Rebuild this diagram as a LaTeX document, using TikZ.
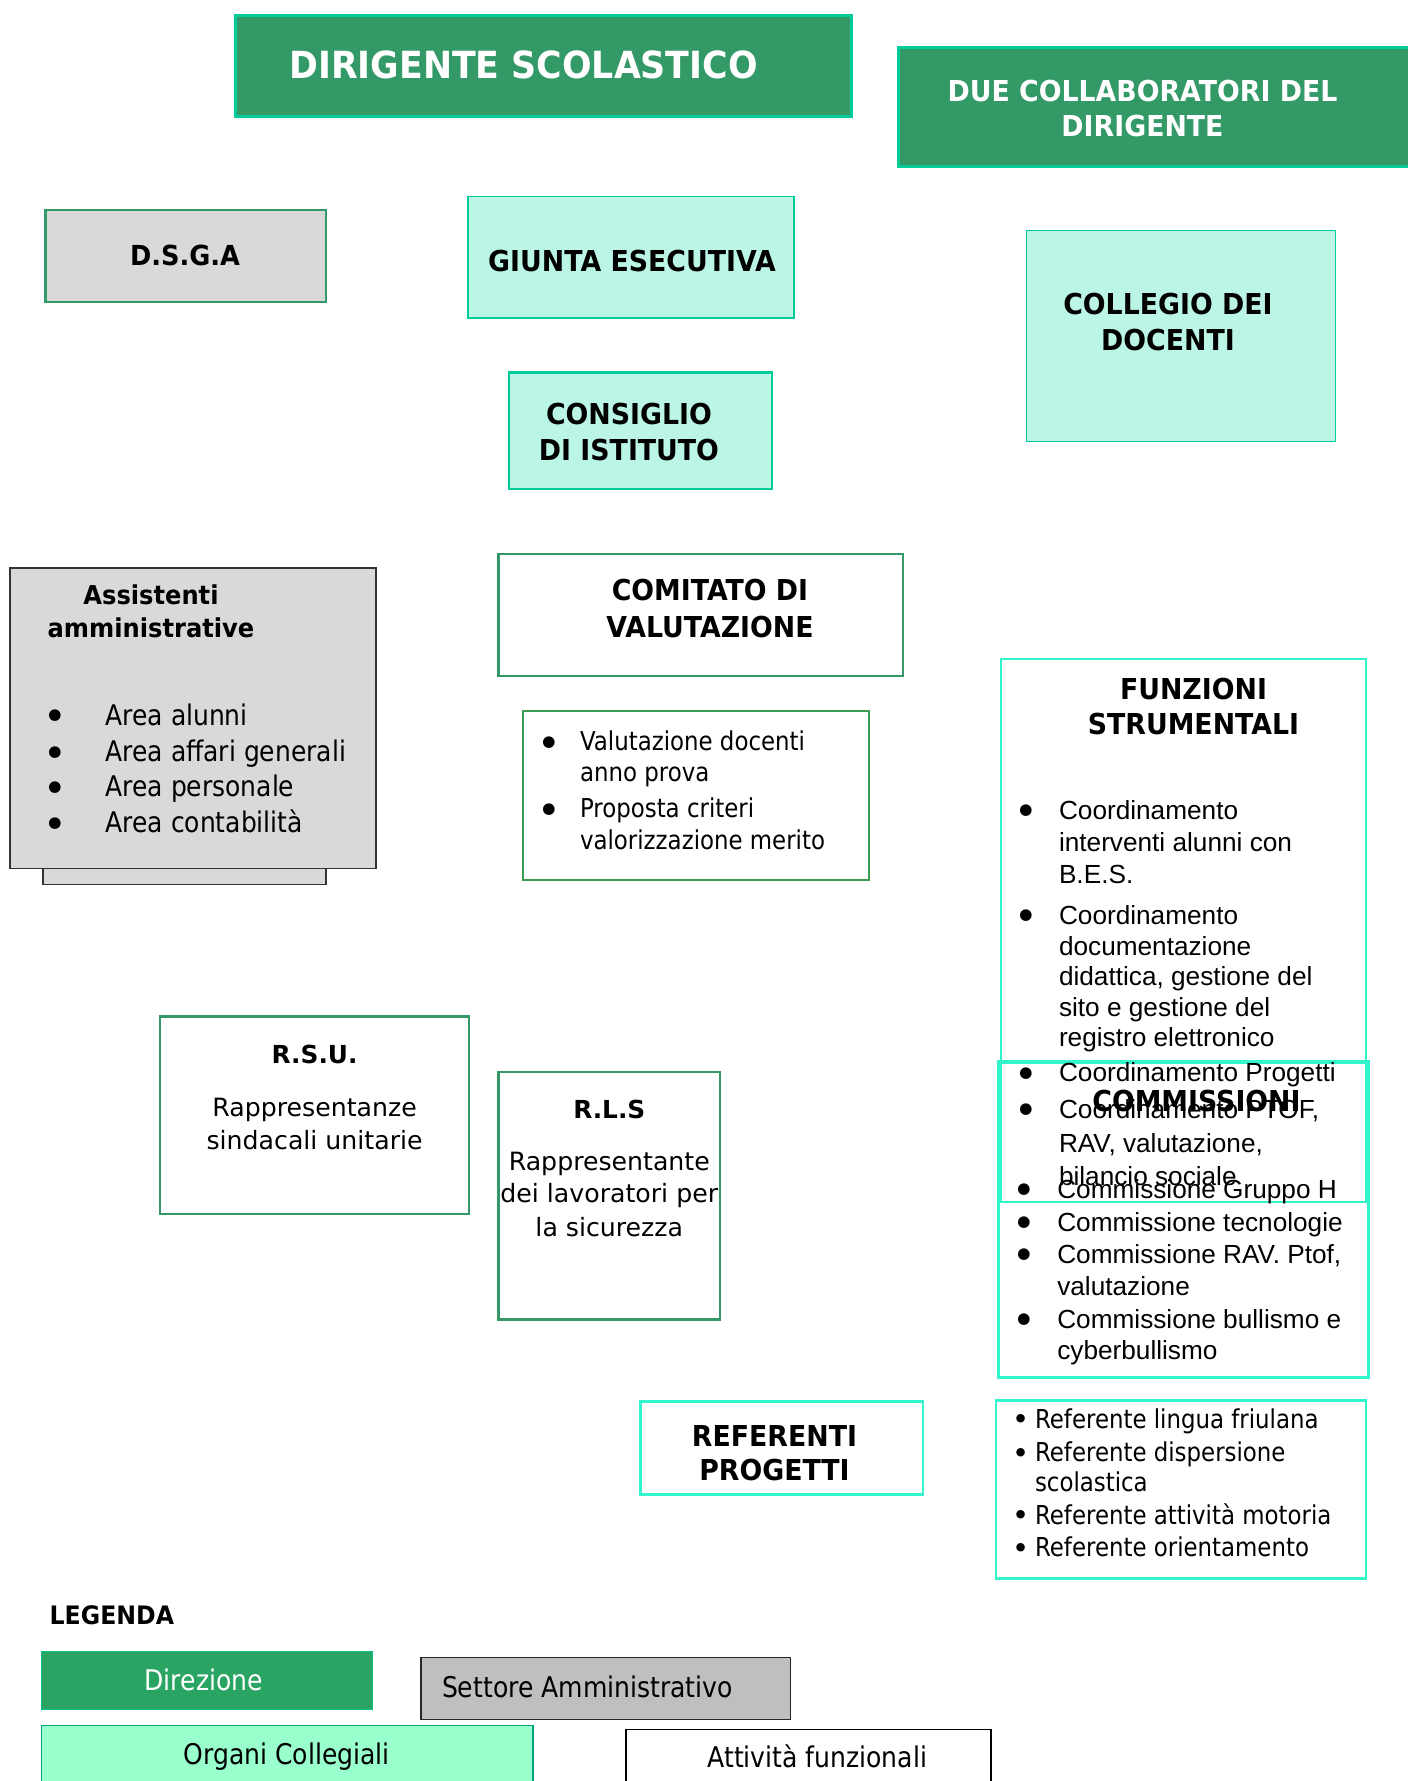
\documentclass[tikz,border=0pt]{standalone}
\usepackage{fontspec}
\setmainfont{DejaVu Sans}
\newfontfamily\arialf{Liberation Sans}
\newfontfamily\tahR{DejaVu Sans}[FakeStretch=0.88]
\newfontfamily\tahB{DejaVu Sans}[FakeStretch=0.93]
\usetikzlibrary{fit}
\definecolor{dgreen}{HTML}{339966}
\definecolor{bgreen}{HTML}{00CC99}
\definecolor{mint}{HTML}{BBF5E6}
\definecolor{aqua}{HTML}{33F5CC}
\definecolor{lgrey}{HTML}{D9D9D9}
\definecolor{mgrey}{HTML}{BFBFBF}
\definecolor{legdir}{HTML}{2AA462}
\definecolor{legorg}{HTML}{99FFCC}
\definecolor{vgreen}{HTML}{3C9A50}
\tikzset{
  rbox/.style={rectangle, inner sep=0pt, outer sep=0pt},
  dirbox/.style={rbox, fill=dgreen, draw=bgreen, line width=1.5pt},
  orgbox/.style={rbox, fill=mint, draw=bgreen, line width=0.8pt},
  grnbox/.style={rbox, draw=dgreen, line width=1.3pt},
  aquabox/.style={rbox, draw=aqua, line width=1.4pt},
  txt/.style={inner sep=0pt, outer sep=0pt, anchor=base},
  ltxt/.style={inner sep=0pt, outer sep=0pt, anchor=base west},
  bul/.style={inner sep=0pt, outer sep=0pt, anchor=center},
  fDir/.style={font={\tahB\bfseries\fontsize{18.7pt}{22pt}\selectfont}},
  fTit/.style={font={\tahB\bfseries\fontsize{14.4pt}{17pt}\selectfont}},
  fSub/.style={font={\tahB\bfseries\fontsize{13pt}{16pt}\selectfont}},
  fVB/.style={font={\bfseries\fontsize{12.4pt}{15pt}\selectfont}},
  fV/.style={font={\fontsize{12.6pt}{15pt}\selectfont}},
  fA/.style={font={\arialf\fontsize{13.1pt}{15pt}\selectfont}},
  fT/.style={font={\tahR\fontsize{13pt}{15pt}\selectfont}},
  fTA/.style={font={\tahR\fontsize{14.2pt}{17pt}\selectfont}},
  fL/.style={font={\tahR\fontsize{14.25pt}{17pt}\selectfont}},
  fBul/.style={font={\fontsize{20pt}{20pt}\selectfont}},
  fBulS/.style={font={\fontsize{14.5pt}{15pt}\selectfont}},
}
\begin{document}
\begin{tikzpicture}[x=0.5pt, y={(0pt,-0.5pt)}]
\path[use as bounding box, fill=white] (0,0) rectangle (1407,1781);

% ---------------- boxes
\node[dirbox, fit={(235,16) (851,117)}] (dir) {};
\node[dirbox, fit={(898,48) (1420,167)}] (due) {};
\node[rbox, fill=lgrey, draw=dgreen, line width=1.3pt, fit={(45.5,210) (326,302)}] (dsga) {};
\node[orgbox, fit={(468,196.5) (794,318)}] (giunta) {};
\node[orgbox, fit={(1026.5,230.5) (1335.5,441.5)}] (collegio) {};
\node[orgbox, line width=1.4pt, fit={(509,372.5) (772,489)}] (consiglio) {};
\node[rbox, fill=lgrey, draw=black!80, line width=0.7pt, fit={(43,868.7) (326,884.6)}] (assstrip) {};
\node[rbox, fill=lgrey, draw=black!80, line width=0.7pt, fit={(10,568) (376,868.7)}] (assist) {};
\node[grnbox, fit={(498.5,554) (903,676)}] (comitato) {};
\node[rbox, draw=vgreen, line width=1pt, fit={(522.5,711) (869,880)}] (valut) {};
\node[rbox, draw=aqua, line width=1pt, fit={(1000.5,658.5) (1366,1201.5)}] (funz) {};
\node[rbox, draw=aqua, line width=1.7pt, fit={(998.5,1062) (1368.5,1377.5)}] (comm) {};
\node[aquabox, fit={(640.5,1401.5) (923,1494.5)}] (referenti) {};
\node[aquabox, fit={(996,1400.5) (1366,1578.5)}] (reflist) {};
\node[grnbox, fit={(160,1016.5) (469,1214)}] (rsu) {};
\node[grnbox, fit={(498.5,1072) (720,1319.5)}] (rls) {};
% legend boxes
\node[rbox, fill=legdir, draw=bgreen!70!legdir, line width=0.5pt, fit={(41.5,1651) (372.5,1709)}] (ldir) {};
\node[rbox, fill=mgrey, draw=black!85, line width=0.8pt, fit={(421,1657.5) (790.5,1719.5)}] (lset) {};
\node[rbox, fill=legorg, draw=bgreen!80!black, line width=0.7pt, fit={(41.5,1725.5) (533,1800)}] (lorg) {};
\node[rbox, fill=white, draw=black, line width=0.8pt, fit={(625.7,1729.5) (991,1800)}] (latt) {};

% ---------------- titles
\node[txt, fDir, text=white] (dirT) at (523.5,79) {DIRIGENTE SCOLASTICO};
\node[txt, fTit, text=white] (dueT1) at (1142.5,101.7) {DUE COLLABORATORI DEL};
\node[txt, fTit, text=white] (dueT2) at (1142.5,136.7) {DIRIGENTE};
\node[txt, fTit, font={\tahB\bfseries\fontsize{13.8pt}{17pt}\selectfont}] (dsgaT) at (185,266) {D.S.G.A};
\node[txt, fTit] (giuntaT) at (632,271.7) {GIUNTA ESECUTIVA};
\node[txt, fTit] (collT1) at (1168,315) {COLLEGIO DEI};
\node[txt, fTit] (collT2) at (1168,350.7) {DOCENTI};
\node[txt, fTit] (consT1) at (629,424) {CONSIGLIO};
\node[txt, fTit] (consT2) at (629,460) {DI ISTITUTO};
\node[txt, fTit] (comT1) at (710,600) {COMITATO DI};
\node[txt, fTit] (comT2) at (710,637.3) {VALUTAZIONE};
\node[txt, fTit] (funzT1) at (1193.5,699) {FUNZIONI};
\node[txt, fTit] (funzT2) at (1193.5,734) {STRUMENTALI};
\node[txt, fTit] (commT) at (1196.5,1111.7) {COMMISSIONI};
\node[txt, fTit] (refT1) at (774.5,1446.7) {REFERENTI};
\node[txt, fTit] (refT2) at (774.5,1480.7) {PROGETTI};
\node[txt, fSub] (assT1) at (151,604) {Assistenti};
\node[txt, fSub] (assT2) at (151,637.3) {amministrative};

% ---------------- Assistenti items
\foreach \yy/\txt [count=\k] in {725/Area alunni, 761.7/Area affari generali, 796.7/Area personale, 832.7/Area contabilità}{
  \node[ltxt, fTA] (assI\k) at (105.6,\yy) {\txt};
  \node[bul, fBul] (assB\k) at (55.7,\yy-4.5) {•};
}

% ---------------- Valutazione items
\foreach \yy/\txt [count=\k] in {750/Valutazione docenti, 781.7/anno prova, 817.3/Proposta criteri, 849/valorizzazione merito}{
  \node[ltxt, fT] (valI\k) at (580,\yy) {\txt};
}
\foreach \yy [count=\k] in {750, 817.3}{
  \node[bul, fBul] (valB\k) at (549.3,\yy-3) {•};
}

% ---------------- Funzioni strumentali items
\foreach \yy/\txt [count=\k] in {819.3/Coordinamento, 851/interventi alunni con, 883.3/B.E.S., 924.3/Coordinamento, 955/documentazione, 985.7/{didattica, gestione del}, 1016/sito e gestione del, 1046.7/registro elettronico, 1081.7/Coordinamento Progetti, 1118.3/{Coordinamento PTOF,}, 1152.3/{RAV, valutazione,}, 1185/bilancio sociale}{
  \node[ltxt, fA] (funI\k) at (1059,\yy) {\txt};
}
\foreach \yy [count=\k] in {819.3, 924.3, 1081.7, 1118.3}{
  \node[bul, fBul] (funB\k) at (1026.4,\yy-4) {•};
}

% ---------------- Commissioni items
\foreach \yy/\txt [count=\k] in {1198.6/Commissione Gruppo H, 1231.5/Commissione tecnologie, 1263.3/{Commissione RAV. Ptof,}, 1295.1/valutazione, 1328/Commissione bullismo e, 1359.8/cyberbullismo}{
  \node[ltxt, fA] (comI\k) at (1057.3,\yy) {\txt};
}
\foreach \yy [count=\k] in {1198.6, 1231.5, 1263.3, 1328}{
  \node[bul, fBul] (comB\k) at (1024.7,\yy-4) {•};
}

% ---------------- Referenti list
\foreach \yy/\txt [count=\k] in {1428.3/Referente lingua friulana, 1461.7/Referente dispersione, 1491.7/scolastica, 1524/Referente attività motoria, 1556.7/Referente orientamento}{
  \node[ltxt, fT] (rfI\k) at (1035,\yy) {\txt};
}
\foreach \yy [count=\k] in {1428.3, 1461.7, 1524, 1556.7}{
  \node[bul, fBulS] (rfB\k) at (1021,\yy-6) {•};
}

% ---------------- RSU / RLS
\node[txt, fVB] (rsuT) at (314.6,1063.3) {R.S.U.};
\node[txt, fV] (rsu1) at (314.6,1116) {Rappresentanze};
\node[txt, fV] (rsu2) at (314.6,1149.3) {sindacali unitarie};
\node[txt, fVB] (rlsT) at (609.3,1118.3) {R.L.S};
\node[txt, fV] (rls1) at (609.3,1170) {Rappresentante};
\node[txt, fV] (rls2) at (609.3,1202.7) {dei lavoratori per};
\node[txt, fV] (rls3) at (609.3,1236.7) {la sicurezza};

% ---------------- legend
\node[ltxt, font={\tahB\bfseries\fontsize{12.7pt}{15pt}\selectfont}] (legT) at (49.7,1624.3) {LEGENDA};
\node[txt, fL, text=white] (ldirT) at (203.8,1690) {Direzione};
\node[ltxt, fL] (lsetT) at (442,1697.3) {Settore Amministrativo};
\node[txt, fL] (lorgT) at (286.6,1764) {Organi Collegiali};
\node[txt, fL] (lattT) at (817.3,1767.3) {Attività funzionali};
\end{tikzpicture}
\end{document}
